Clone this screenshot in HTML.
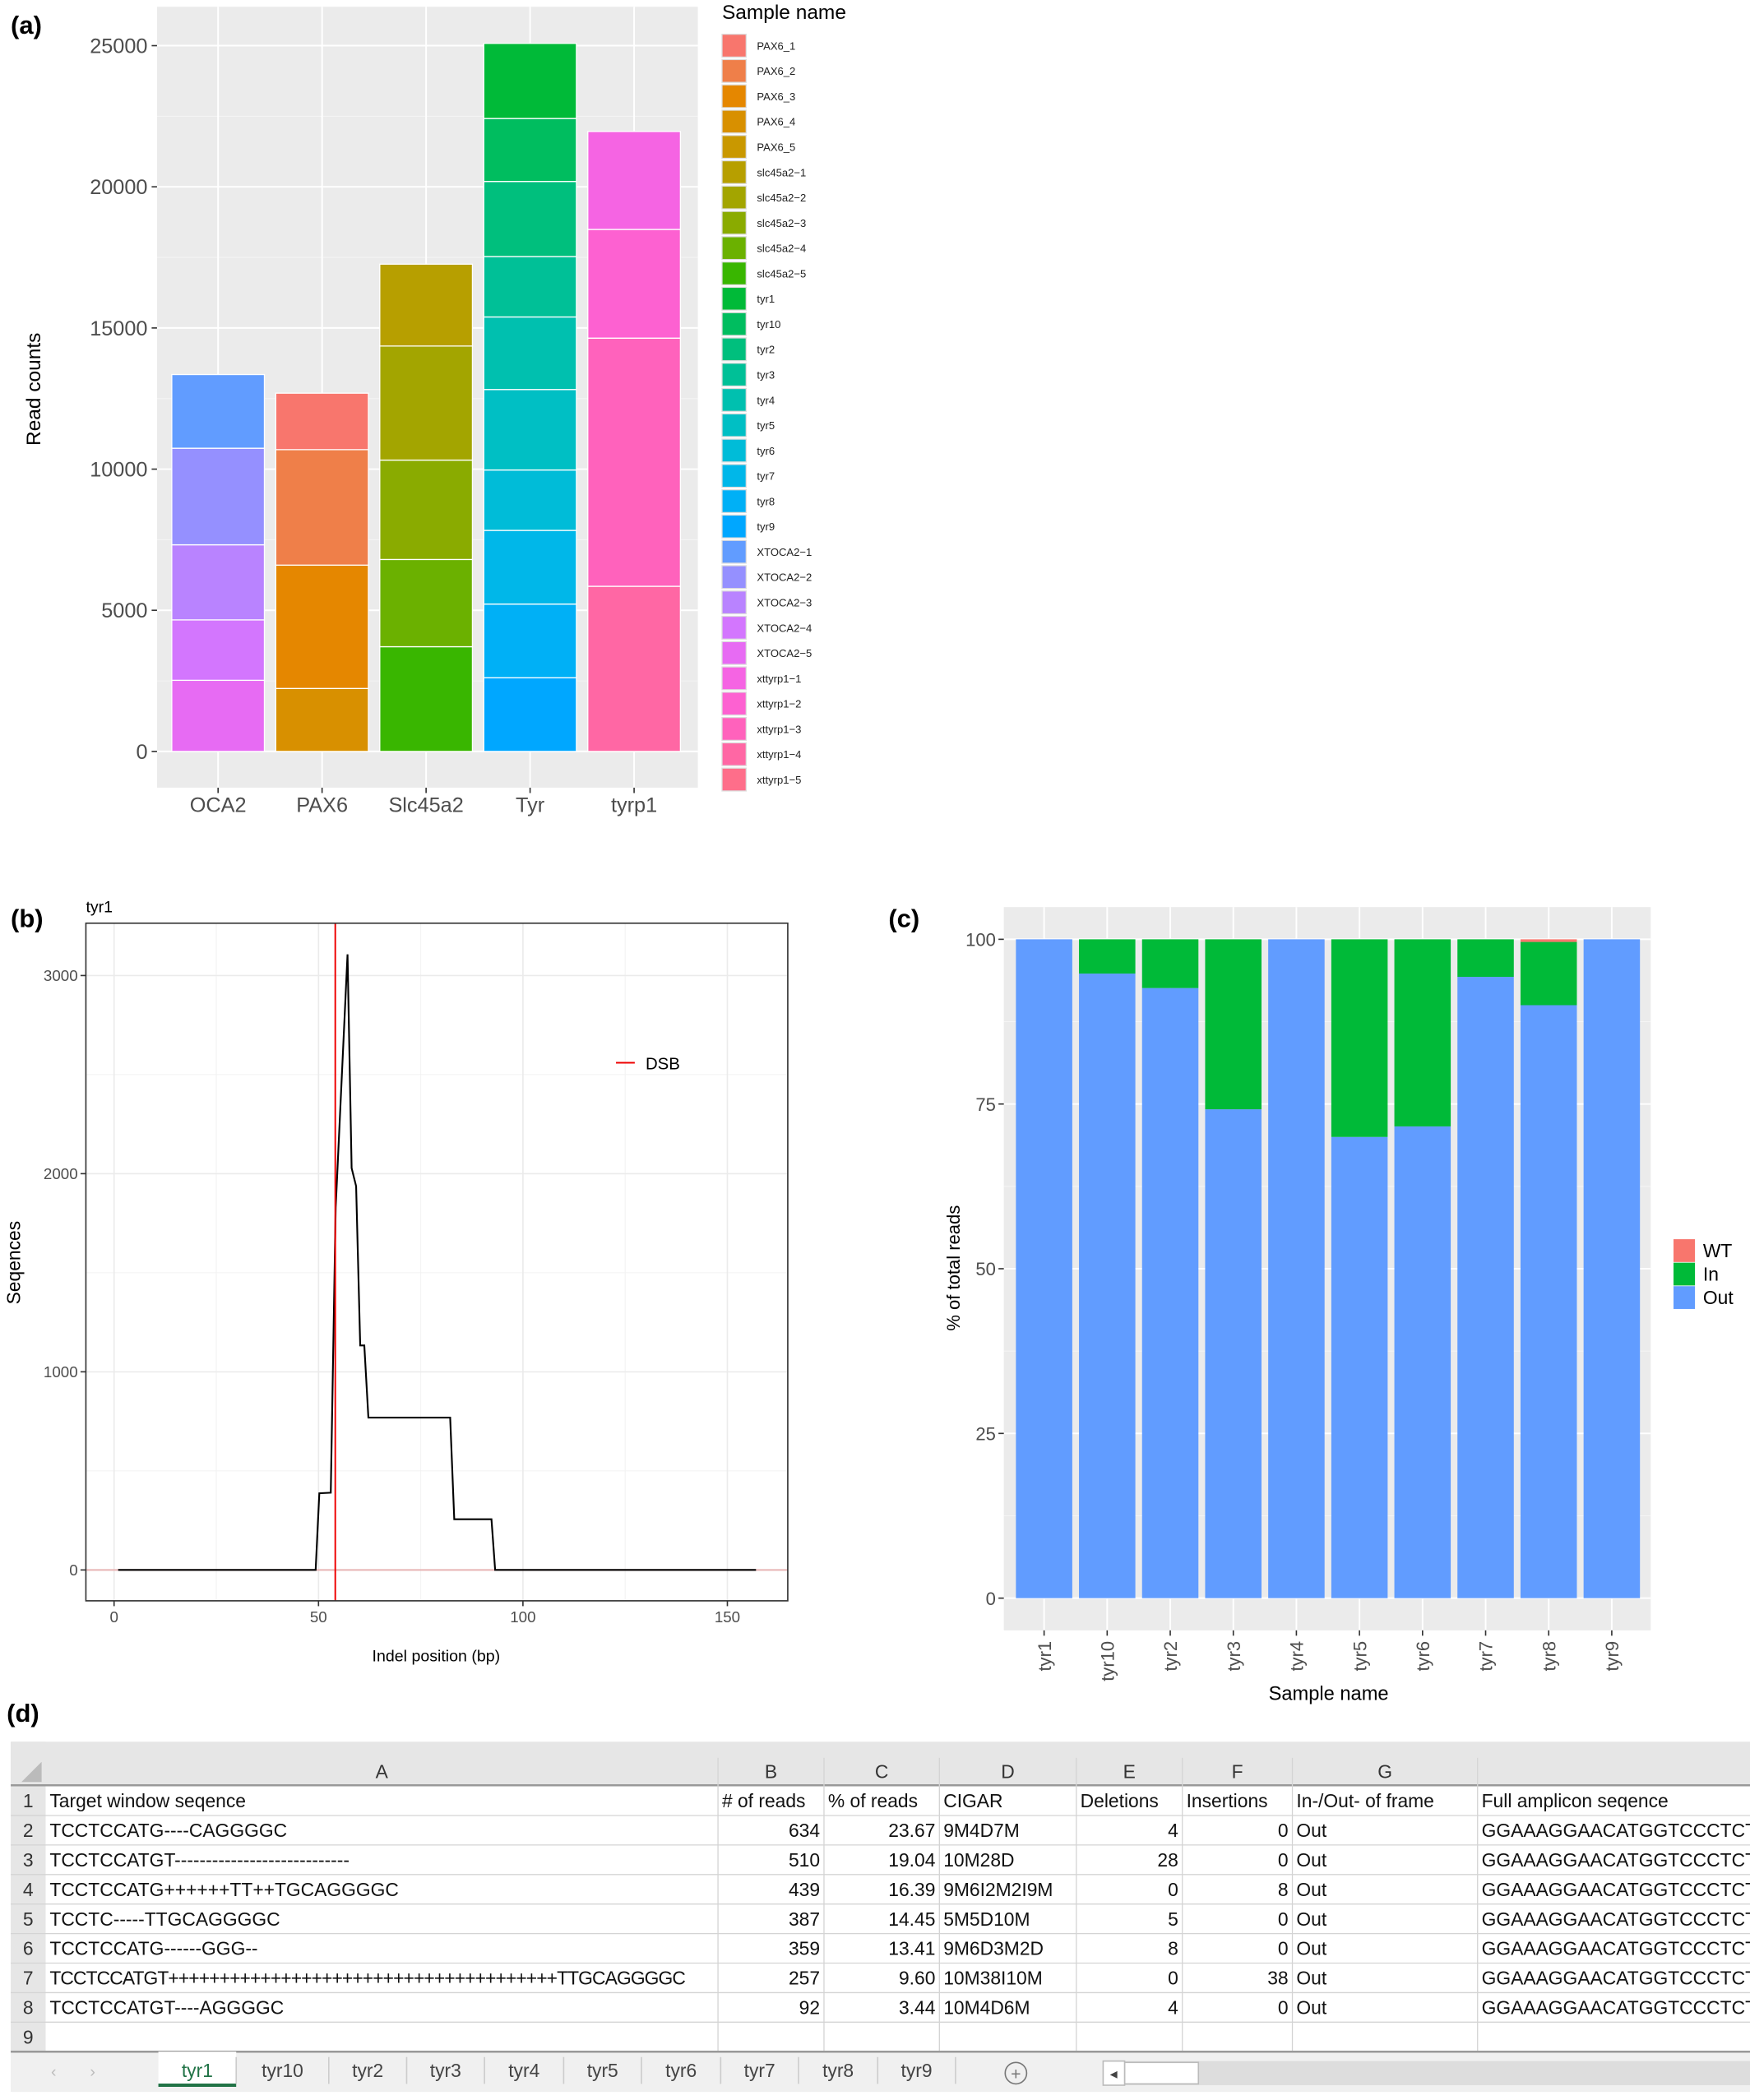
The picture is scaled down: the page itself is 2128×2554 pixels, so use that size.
<!DOCTYPE html>
<html><head><meta charset="utf-8">
<style>
html,body{margin:0;padding:0;background:#fff;}
svg{display:block;font-family:"Liberation Sans",Arial,sans-serif;}
</style></head>
<body>
<svg id="fig" width="2128" height="2554" viewBox="0 0 1304 1565" xmlns="http://www.w3.org/2000/svg">
<g id="pa"></g>
<g id="pb"></g>
<g id="pc"></g>
<g id="pd"></g>
</svg>
<script>
// ---------- Panel (a) data ----------
const aGenes = ["OCA2","PAX6","Slc45a2","Tyr","tyrp1"];
const aSamples = ["PAX6_1","PAX6_2","PAX6_3","PAX6_4","PAX6_5","slc45a2\u22121","slc45a2\u22122","slc45a2\u22123","slc45a2\u22124","slc45a2\u22125","tyr1","tyr10","tyr2","tyr3","tyr4","tyr5","tyr6","tyr7","tyr8","tyr9","XTOCA2\u22121","XTOCA2\u22122","XTOCA2\u22123","XTOCA2\u22124","XTOCA2\u22125","xttyrp1\u22121","xttyrp1\u22122","xttyrp1\u22123","xttyrp1\u22124","xttyrp1\u22125"];
const aSampleGene = ["PAX6","PAX6","PAX6","PAX6","PAX6","Slc45a2","Slc45a2","Slc45a2","Slc45a2","Slc45a2","Tyr","Tyr","Tyr","Tyr","Tyr","Tyr","Tyr","Tyr","Tyr","Tyr","OCA2","OCA2","OCA2","OCA2","OCA2","tyrp1","tyrp1","tyrp1","tyrp1","tyrp1"];
const aCounts = [2000,4090,4370,2230,0, 2900,4040,3520,3090,3710, 2660,2230,2660,2140,2570,2850,2140,2610,2610,2610, 2610,3420,2660,2140,2520, 3470,3850,8790,5850,0];
const aTicks = [0,5000,10000,15000,20000,25000];

// ---------- Panel (b) data ----------
const bPos =  [1,49.3,50.2,53,54.2,57.1,58.1,59.2,60.2,61.2,62.2,82.2,83.2,92.3,93.2,157];
const bSeqs = [0,0,387,390,1830,3107,2028,1937,1133,1133,769,769,256,256,0,0];
const bXTicks = [0,50,100,150];
const bYTicks = [0,1000,2000,3000];
const bDSB = 54.1;

// ---------- Panel (c) data ----------
const cSamples = ["tyr1","tyr10","tyr2","tyr3","tyr4","tyr5","tyr6","tyr7","tyr8","tyr9"];
const cOut = [100,94.8,92.6,74.2,100,70.0,71.6,94.3,90.0,100];
const cWT  = [0,0,0,0,0,0,0,0,0.4,0];
const cTicks = [0,25,50,75,100];

const NS="http://www.w3.org/2000/svg";
function mk(parent,tag,attrs,text){const e=document.createElementNS(NS,tag);for(const k in attrs)e.setAttribute(k,attrs[k]);if(text!==undefined)e.textContent=text;parent.appendChild(e);return e;}

function hcl(h){const L=65,C=100;const hr=h*Math.PI/180;const u=C*Math.cos(hr),v=C*Math.sin(hr);
 const Y=Math.pow((L+16)/116,3);const un=0.19784,vn=0.46834;const up=u/(13*L)+un,vp=v/(13*L)+vn;
 const X=Y*9*up/(4*vp),Z=Y*(12-3*up-20*vp)/(4*vp);
 let r=3.2406*X-1.5372*Y-0.4986*Z,g=-0.9689*X+1.8758*Y+0.0415*Z,b=0.0557*X-0.2040*Y+1.0570*Z;
 const gm=c=>{c=c<=0.0031308?12.92*c:1.055*Math.pow(c,1/2.4)-0.055;return Math.round(Math.max(0,Math.min(1,c))*255);};
 return `rgb(${gm(r)},${gm(g)},${gm(b)})`;}

// ================= Panel A =================
(function(){
const g=document.getElementById('pa');
let t=mk(g,'text',{x:8,y:25,'font-size':19,'font-weight':'bold'},'(a)');


const L=117,R=520,T=5,B=587;
const y=v=>560-v*(526/25000);
mk(g,'rect',{x:L,y:T,width:R-L,height:B-T,fill:'#EBEBEB'});
for(let v=2500;v<=25000;v+=5000) mk(g,'line',{x1:L,x2:R,y1:y(v),y2:y(v),stroke:'#f5f5f5','stroke-width':0.6});
aTicks.forEach(v=>{mk(g,'line',{x1:L,x2:R,y1:y(v),y2:y(v),stroke:'#fff','stroke-width':1.2});
 mk(g,'line',{x1:L-4,x2:L,y1:y(v),y2:y(v),stroke:'#333'});
 const tl=mk(g,'text',{x:L-7,y:y(v)+5.5,'font-size':15.5,fill:'#4d4d4d','text-anchor':'end'},String(v));
 
 });
const step=77.5, c0=162.5, bw=69;
const colors=aSamples.map((s,i)=>hcl(15+360*i/30));
aGenes.forEach((gene,gi)=>{const cx=c0+step*gi;
 mk(g,'line',{x1:cx,x2:cx,y1:T,y2:B,stroke:'#fff','stroke-width':1.2});
 let cum=0;
 for(let i=aSamples.length-1;i>=0;i--){ if(aSampleGene[i]!==gene||aCounts[i]<=0)continue;
  const r=mk(g,'rect',{x:cx-bw/2,y:y(cum+aCounts[i]),width:bw,height:y(cum)-y(cum+aCounts[i]),fill:colors[i],stroke:'#fff','stroke-width':0.8});
  
  
  cum+=aCounts[i];}
 mk(g,'line',{x1:cx,x2:cx,y1:B,y2:B+4,stroke:'#333'});
 const xl=mk(g,'text',{x:cx,y:B+18,'font-size':15.5,fill:'#4d4d4d','text-anchor':'middle'},gene);
 
 
});
const yt=mk(g,'text',{x:0,y:0,'font-size':15,transform:'translate(30,290) rotate(-90)','text-anchor':'middle'},'Read counts');


const lt=mk(g,'text',{x:538,y:14,'font-size':15},'Sample name');


aSamples.forEach((s,i)=>{const cy=34+i*18.86;
 const kr=mk(g,'rect',{x:538,y:cy-8.5,width:18,height:17,fill:colors[i],stroke:'#ddd','stroke-width':0.8});
 
 
 const lx=mk(g,'text',{x:564,y:cy+3,'font-size':8,fill:'#222'},s);
 
 });
})();

// ================= Panel B =================
(function(){
const g=document.getElementById('pb');
let t=mk(g,'text',{x:8,y:691,'font-size':19,'font-weight':'bold'},'(b)');


const L=64,R=587,T=688,B=1193;
const x=v=>85+v*(457/150), y=v=>1170-v*(443/3000);
mk(g,'rect',{x:L,y:T,width:R-L,height:B-T,fill:'#fff'});
[25,75,125].forEach(v=>mk(g,'line',{x1:x(v),x2:x(v),y1:T,y2:B,stroke:'#f2f2f2','stroke-width':0.6}));
[500,1500,2500].forEach(v=>mk(g,'line',{x1:L,x2:R,y1:y(v),y2:y(v),stroke:'#f2f2f2','stroke-width':0.6}));
bXTicks.forEach(v=>{mk(g,'line',{x1:x(v),x2:x(v),y1:T,y2:B,stroke:'#ebebeb','stroke-width':1});
 mk(g,'line',{x1:x(v),x2:x(v),y1:B,y2:B+4,stroke:'#333'});
 const l=mk(g,'text',{x:x(v),y:B+16,'font-size':11.5,fill:'#4d4d4d','text-anchor':'middle'},String(v));
 
 });
bYTicks.forEach(v=>{mk(g,'line',{x1:L,x2:R,y1:y(v),y2:y(v),stroke:'#ebebeb','stroke-width':1});
 mk(g,'line',{x1:L-4,x2:L,y1:y(v),y2:y(v),stroke:'#333'});
 const l=mk(g,'text',{x:L-6,y:y(v)+4,'font-size':11.5,fill:'#4d4d4d','text-anchor':'end'},String(v));
 
 });
mk(g,'line',{x1:L,x2:R,y1:y(0),y2:y(0),stroke:'#e8b4b4','stroke-width':1.2});
const pts=bPos.map((p,i)=>x(p).toFixed(2)+','+y(bSeqs[i]).toFixed(2)).join(' ');
const pl=mk(g,'polyline',{points:pts,fill:'none',stroke:'#000','stroke-width':1.3});


const dl=mk(g,'line',{x1:x(bDSB),x2:x(bDSB),y1:T,y2:B,stroke:'#e00','stroke-width':1.2});


mk(g,'rect',{x:L,y:T,width:R-L,height:B-T,fill:'none',stroke:'#333','stroke-width':1});
mk(g,'line',{x1:459,x2:473,y1:792,y2:792,stroke:'#e00','stroke-width':1.2});
const le=mk(g,'text',{x:481,y:797,'font-size':12.5},'DSB');


const tt=mk(g,'text',{x:64,y:680,'font-size':12},'tyr1');


const yt=mk(g,'text',{x:0,y:0,'font-size':14,transform:'translate(15,941) rotate(-90)','text-anchor':'middle'},'Seqences');


const xt=mk(g,'text',{x:325,y:1238,'font-size':12,'text-anchor':'middle'},'Indel position (bp)');


})();

// ================= Panel C =================
(function(){
const g=document.getElementById('pc');
let t=mk(g,'text',{x:662,y:691,'font-size':19,'font-weight':'bold'},'(c)');


const L=748,R=1230,T=676,B=1215;
const y=v=>1191-v*(491/100);
const step=47, x0=778, bw=42;
mk(g,'rect',{x:L,y:T,width:R-L,height:B-T,fill:'#EBEBEB'});
[12.5,37.5,62.5,87.5].forEach(v=>mk(g,'line',{x1:L,x2:R,y1:y(v),y2:y(v),stroke:'#f5f5f5','stroke-width':0.6}));
cTicks.forEach(v=>{mk(g,'line',{x1:L,x2:R,y1:y(v),y2:y(v),stroke:'#fff','stroke-width':1.2});
 mk(g,'line',{x1:L-4,x2:L,y1:y(v),y2:y(v),stroke:'#333'});
 const l=mk(g,'text',{x:L-6,y:y(v)+5,'font-size':13.5,fill:'#4d4d4d','text-anchor':'end'},String(v));
 
 });
cSamples.forEach((s,i)=>{const cx=x0+i*step;
 mk(g,'line',{x1:cx,x2:cx,y1:T,y2:B,stroke:'#fff','stroke-width':1.2});
 const o=cOut[i], w=cWT[i], inn=100-o-w;
 const ro=mk(g,'rect',{x:cx-bw/2,y:y(o),width:bw,height:y(0)-y(o),fill:'#619CFF'});
 
 
 if(inn>0){const ri=mk(g,'rect',{x:cx-bw/2,y:y(o+inn),width:bw,height:y(o)-y(o+inn),fill:'#00BA38'});
 
 }
 if(w>0){const rw=mk(g,'rect',{x:cx-bw/2,y:y(100),width:bw,height:y(o+inn)-y(100),fill:'#F8766D'});
 
 }
 mk(g,'line',{x1:cx,x2:cx,y1:B,y2:B+4,stroke:'#333'});
 const l=mk(g,'text',{x:0,y:0,'font-size':13.5,fill:'#4d4d4d','text-anchor':'end',transform:`translate(${cx+5},${B+8}) rotate(-90)`},s);
 
 
});
const yt=mk(g,'text',{x:0,y:0,'font-size':13.5,transform:'translate(715,945) rotate(-90)','text-anchor':'middle'},'% of total reads');


const xt=mk(g,'text',{x:990,y:1267,'font-size':14.5,'text-anchor':'middle'},'Sample name');


[['WT','#F8766D'],['In','#00BA38'],['Out','#619CFF']].forEach((e,i)=>{const cy=932+i*17.5;
 mk(g,'rect',{x:1247,y:cy-8.5,width:16,height:17,fill:e[1]});
 const l=mk(g,'text',{x:1269,y:cy+5,'font-size':14},e[0]);
 
 });
})();

// ================= Panel D (spreadsheet) =================
(function(){
const g=document.getElementById('pd');
let t=mk(g,'text',{x:5,y:1283,'font-size':19,'font-weight':'bold'},'(d)');


const cols=[8,34,535,614,700,802,881,963,1101,1304];
const letters=['A','B','C','D','E','F','G',''];
const top=1298;
mk(g,'rect',{x:8,y:top,width:1296,height:267,fill:'#fff'});
mk(g,'rect',{x:8,y:top,width:1296,height:33,fill:'#e6e6e6'});
mk(g,'rect',{x:8,y:top,width:26,height:232,fill:'#e6e6e6'});
mk(g,'polygon',{points:'31,1313 31,1328 16,1328',fill:'#bbb'});
letters.forEach((l,i)=>{const tx=mk(g,'text',{x:(cols[i+1]+cols[i+2])/2,y:1325,'font-size':14,fill:'#333','text-anchor':'middle'},l);
 
 });
mk(g,'line',{x1:8,x2:1304,y1:1330.5,y2:1330.5,stroke:'#999','stroke-width':1.5});
const rows=[
["Target window seqence","# of reads","% of reads","CIGAR","Deletions","Insertions","In-/Out- of frame","Full amplicon seqence"],
["TCCTCCATG----CAGGGGC","634","23.67","9M4D7M","4","0","Out","GGAAAGGAACATGGTCCCTCTC"],
["TCCTCCATGT----------------------------","510","19.04","10M28D","28","0","Out","GGAAAGGAACATGGTCCCTCTC"],
["TCCTCCATG++++++TT++TGCAGGGGC","439","16.39","9M6I2M2I9M","0","8","Out","GGAAAGGAACATGGTCCCTCTC"],
["TCCTC-----TTGCAGGGGC","387","14.45","5M5D10M","5","0","Out","GGAAAGGAACATGGTCCCTCTC"],
["TCCTCCATG------GGG--","359","13.41","9M6D3M2D","8","0","Out","GGAAAGGAACATGGTCCCTCTC"],
["TCCTCCATGT++++++++++++++++++++++++++++++++++++++TTGCAGGGGC","257","9.60","10M38I10M","0","38","Out","GGAAAGGAACATGGTCCCTCTC"],
["TCCTCCATGT----AGGGGC","92","3.44","10M4D6M","4","0","Out","GGAAAGGAACATGGTCCCTCTC"],
["","","","","","","",""]];
const rh=22, r0=1331;
for(let c=2;c<cols.length-1;c++) mk(g,'line',{x1:cols[c],x2:cols[c],y1:1310,y2:r0+rh*9,stroke:'#d4d4d4','stroke-width':0.8});
const clip=mk(g,'clipPath',{id:'tclip'});mk(clip,'rect',{x:8,y:top,width:1296,height:267});
const tg=mk(g,'g',{'clip-path':'url(#tclip)'});
rows.forEach((r,ri)=>{const yb=r0+rh*(ri+1);
 mk(g,'line',{x1:8,x2:1304,y1:yb,y2:yb,stroke:'#d4d4d4','stroke-width':0.8});
 const rn=mk(g,'text',{x:21,y:yb-6,'font-size':14,fill:'#333','text-anchor':'middle'},String(ri+1));
 
 
 r.forEach((v,ci)=>{if(!v)return;
  const num=ri>0&&[1,2,4,5].includes(ci);
  const tx=mk(tg,'text',{x:num?cols[ci+2]-3:cols[ci+1]+3,y:yb-6,'font-size':14,fill:'#111','text-anchor':num?'end':'start'},v);
  if(ci==0&&ri==6) tx.setAttribute('textLength','474');
  
  });
});
const tb=r0+rh*9;
mk(g,'rect',{x:8,y:tb,width:1296,height:30,fill:'#f0f0f0'});
mk(g,'line',{x1:8,x2:1304,y1:tb,y2:tb,stroke:'#999','stroke-width':1.5});
mk(g,'text',{x:38,y:tb+19,'font-size':12,fill:'#bbb'},'\u2039');
mk(g,'text',{x:67,y:tb+19,'font-size':12,fill:'#bbb'},'\u203A');
const tabs=["tyr1","tyr10","tyr2","tyr3","tyr4","tyr5","tyr6","tyr7","tyr8","tyr9"];
const tx0=[118,176,245,303,361,420,478,537,595,654,712];
tabs.forEach((s,i)=>{
 if(i==0){mk(g,'rect',{x:tx0[0],y:tb,width:tx0[1]-tx0[0],height:26,fill:'#fff'});
  mk(g,'line',{x1:tx0[0],x2:tx0[1],y1:tb+25,y2:tb+25,stroke:'#217346','stroke-width':2.5});}
 mk(g,'line',{x1:tx0[i+1],x2:tx0[i+1],y1:tb+4,y2:tb+24,stroke:'#ccc'});
 const l=mk(g,'text',{x:(tx0[i]+tx0[i+1])/2,y:tb+19,'font-size':14,fill:i==0?'#217346':'#444','text-anchor':'middle'},s);
 
 });
const pc=mk(g,'circle',{cx:757,cy:tb+16,r:8,fill:'none',stroke:'#777'});


mk(g,'text',{x:757,y:tb+21,'font-size':13,fill:'#777','text-anchor':'middle'},'+');
mk(g,'rect',{x:822,y:tb+7,width:482,height:18,fill:'#ddd'});
const sb=mk(g,'rect',{x:838,y:tb+8,width:55,height:16,fill:'#fff',stroke:'#bbb'});


mk(g,'rect',{x:822,y:tb+7,width:16,height:18,fill:'#fff',stroke:'#bbb'});
mk(g,'text',{x:827,y:tb+20,'font-size':11,fill:'#444'},'\u25C2');
})();
</script>
</body></html>
